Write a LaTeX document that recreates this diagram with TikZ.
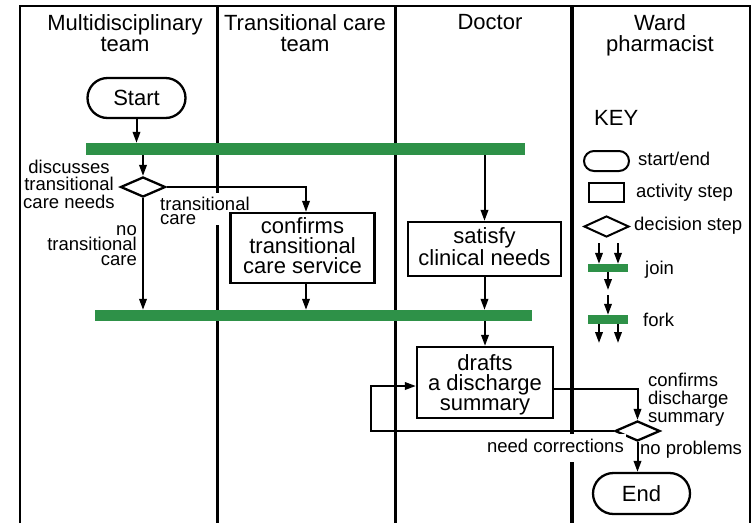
\documentclass[tikz,border=0pt]{standalone}
\usepackage{fontspec}
\setmainfont{Liberation Sans}
\usetikzlibrary{arrows.meta,shapes.geometric}
\definecolor{joingreen}{RGB}{46,145,72}
\begin{document}
\begin{tikzpicture}[x=1pt,y=-1pt,
  border/.style={line width=2pt},
  divider/.style={line width=3pt},
  conn/.style={line width=2pt,-{Triangle[length=11pt,width=7.5pt]}},
  head/.style={align=center,inner sep=0pt,font=\fontsize{22}{21}\selectfont},
  lbl/.style={inner sep=0pt,font=\fontsize{18.5}{17.5}\selectfont},
  stepbox/.style={draw,line width=2.3pt,align=center,inner sep=0pt,font=\fontsize{22}{20}\selectfont},
  terminal/.style={draw,line width=2.3pt,rounded corners=#1,inner sep=0pt,font=\fontsize{22}{22}\selectfont},
  decision/.style={draw,diamond,line width=2.3pt,inner sep=0pt},
  bar/.style={fill=joingreen,inner sep=0pt},
]
\useasboundingbox (0,0) rectangle (752,523);

% swimlanes
\draw[border] (20,523) -- (20,6) -- (749.5,6) -- (749.5,523);
\draw[divider] (217,6) -- (217,523);
\draw[divider] (395,6) -- (395,523);
\draw[divider,line width=3.5pt] (572,6) -- (572,523);
% break in the lane line behind the "transitional care" label
\fill[white] (214,193) rectangle (220,225);

% lane headings
\node[head,anchor=north] (hmdt) at (125,14) {Multidisciplinary\\team};
\node[head,anchor=north] (htct) at (305,14) {Transitional care\\team};
\node[head,anchor=north] (hdoc) at (490,14) {Doctor};
\node[head,anchor=north] (hward) at (660,14) {Ward\\pharmacist};

% flow
\node[terminal=20pt,minimum width=98pt,minimum height=40pt] (start) at (136.5,98) {Start};
\node[bar,minimum width=439pt,minimum height=12pt] (bar1) at (305.5,149) {};
\node[decision,minimum width=45pt,minimum height=20pt] (d1) at (143,187) {};
\node[stepbox,minimum width=144pt,minimum height=70pt,text depth=5pt] (confirm) at (302.5,248) {confirms\\transitional\\care service};
\node[stepbox,minimum width=153pt,minimum height=54pt,text depth=5pt] (satisfy) at (484.5,249) {satisfy\\clinical needs};
\node[bar,minimum width=437pt,minimum height=11pt] (bar2) at (313.5,315.5) {};
\node[stepbox,minimum width=136pt,minimum height=71pt,text depth=0pt] (drafts) at (485,382.5) {drafts\\a discharge\\summary};
\node[decision,minimum width=45pt,minimum height=20pt] (d2) at (637.5,431) {};
\node[terminal=20.5pt,minimum width=97pt,minimum height=41pt] (end) at (641.5,493.5) {End};

% labels
\node[lbl,align=center,anchor=north] (discuss) at (69,159.5) {discusses\\transitional\\care needs};
\node[lbl,align=left,anchor=north west,font=\fontsize{18.5}{14}\selectfont] (tcyes) at (160,196.5) {transitional\\care};
\node[lbl,align=right,anchor=north east,font=\fontsize{18.5}{14.8}\selectfont] (tcno) at (137,225.4) {no\\transitional\\care};
\node[lbl,align=left,anchor=north west,font=\fontsize{18.5}{18}\selectfont] (confirmlbl) at (648,372.5) {confirms\\discharge\\summary};
\node[lbl,anchor=base east,fill=white,inner xsep=2pt,inner ysep=5pt,text depth=4pt] (needcorr) at (626,452.5) {need corrections};
\node[lbl,anchor=base west] (noprob) at (640,454.5) {no problems};

% connectors
\coordinate (ctop) at ([xshift=3.5pt]confirm.north);
\coordinate (cbot) at ([xshift=3.5pt]confirm.south);
\coordinate (loopx) at (371,431);
\draw[conn] (start.south) -- (start.south |- bar1.north);
\draw[conn] (d1.north |- bar1.south) -- (d1.north);
\draw[conn] (d1.east) -| (ctop);
\draw[conn] (d1.south) -- (d1.south |- bar2.north);
\draw[conn] (cbot) -- (cbot |- bar2.north);
\draw[conn] (satisfy.north |- bar1.south) -- (satisfy.north);
\draw[conn] (satisfy.south) -- (satisfy.south |- bar2.north);
\draw[conn] (drafts.north |- bar2.south) -- (drafts.north);
\draw[conn] ([yshift=-6.5pt]drafts.east) -| (d2.north);
\draw[conn] (d2.west) -- (d2.west -| loopx) |- ([yshift=-3.5pt]drafts.west);
\draw[conn] (d2.south) -- (d2.south |- end.north);

% key
\node[anchor=base west,inner sep=0pt,font=\fontsize{22}{22}\selectfont] (keytitle) at (594,125) {KEY};
\node[terminal=10pt,line width=2pt,minimum width=45pt,minimum height=20pt] (kterm) at (606.5,161) {};
\node[lbl,anchor=base west] (ktermlbl) at (638,165.5) {start/end};
\node[draw,line width=2pt,inner sep=0pt,minimum width=35pt,minimum height=19pt] (kbox) at (606.5,192.5) {};
\node[lbl,anchor=base west] (kboxlbl) at (636,197.7) {activity step};
\node[decision,line width=2pt,minimum width=45pt,minimum height=21pt] (kdec) at (606.5,226.5) {};
\node[lbl,anchor=base west] (kdeclbl) at (634,230.7) {decision step};

\node[bar,minimum width=40pt,minimum height=8pt] (kjoin) at (608,268) {};
\node[lbl,anchor=base west] (kjoinlbl) at (645,274) {join};
\coordinate (kj1) at (599,243);
\coordinate (kj2) at (618,243);
\coordinate (kj3) at (608,290);
\draw[conn] (kj1) -- (kj1 |- kjoin.north);
\draw[conn] (kj2) -- (kj2 |- kjoin.north);
\draw[conn] (kjoin.south) -- (kj3);

\node[bar,minimum width=40pt,minimum height=9pt] (kfork) at (608,319.5) {};
\node[lbl,anchor=base west] (kforklbl) at (643,326) {fork};
\coordinate (kf0) at (608,295);
\coordinate (kf1) at (599,343);
\coordinate (kf2) at (618,343);
\draw[conn] (kf0) -- (kfork.north);
\draw[conn] (kf1 |- kfork.south) -- (kf1);
\draw[conn] (kf2 |- kfork.south) -- (kf2);
\end{tikzpicture}
\end{document}
